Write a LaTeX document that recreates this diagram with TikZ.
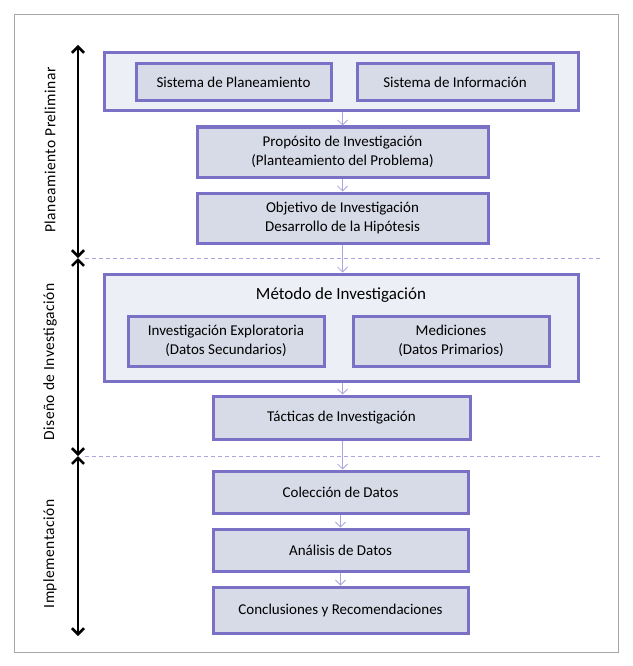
\documentclass[tikz,border=0pt]{standalone}
\usepackage{fontspec}
\setmainfont{Carlito}
\newfontfamily\spacedfont[LetterSpace=3]{Carlito}
\usetikzlibrary{arrows.meta}
\definecolor{rand}{HTML}{7A71C6}
\definecolor{kasten}{HTML}{D7DAE7}
\definecolor{huelle}{HTML}{EDEFF6}
\definecolor{pfeil}{HTML}{A9A5E1}
\begin{document}
\begin{tikzpicture}[x=1pt,y=-1pt,
	box/.style={draw=rand,fill=kasten,line width=3pt,align=center,inner sep=0pt,
		font=\fontsize{15}{19}\selectfont},
	huelle/.style={draw=rand,fill=huelle,line width=3pt,inner sep=0pt},
	fluss/.style={draw=pfeil,line width=0.8pt,-{Straight Barb[length=5pt,width=10pt]}},
	trenner/.style={draw=pfeil,line width=0.8pt,dash pattern=on 4pt off 3pt},
	phase/.style={line width=2.6pt,{Straight Barb[length=6pt,width=12pt]}-{Straight Barb[length=6pt,width=12pt]}},
	phasetext/.style={rotate=90,font=\spacedfont\fontsize{15.5}{17}\selectfont}]
	
	\useasboundingbox (0,0) rectangle (632,666);
	%Rahmen
	\draw[gray!70,line width=0.6pt] (14,14) rectangle (618,652);
	
	%Planeamiento
	\node[huelle,minimum width=474pt,minimum height=58pt] (sistemas) at (341,82) {};
	\node[box,minimum width=195pt,minimum height=37pt] (planeam) at (233.5,82.5) {Sistema de Planeamiento};
	\node[box,minimum width=196pt,minimum height=37pt] (inform) at (455,82.5) {Sistema de Información};
	\node[box,minimum width=291pt,minimum height=50pt] (proposito) at (342.5,152) {Propósito de Investigación\\(Planteamiento del Problema)};
	\node[box,minimum width=291pt,minimum height=50pt] (objetivo) at (342.5,218) {Objetivo de Investigación\\Desarrollo de la Hipótesis};
	
	%Diseno
	\node[huelle,minimum width=474pt,minimum height=107pt] (metodo) at (341,327.5) {};
	\node[font=\fontsize{17}{19}\selectfont] (metodotitel) at (341,295) {Método de Investigación};
	\node[box,minimum width=196pt,minimum height=50pt] (explor) at (226,341) {Investigación Exploratoria\\(Datos Secundarios)};
	\node[box,minimum width=196pt,minimum height=50pt] (medic) at (451,341) {Mediciones\\(Datos Primarios)};
	\node[box,minimum width=257pt,minimum height=43pt] (tacticas) at (341.5,417.5) {Tácticas de Investigación};
	
	%Implementacion
	\node[box,minimum width=255pt,minimum height=42pt] (coleccion) at (340.5,492) {Colección de Datos};
	\node[box,minimum width=255pt,minimum height=42pt] (analisis) at (340.5,550) {Análisis de Datos};
	\node[box,minimum width=255pt,minimum height=46pt] (conclus) at (340.5,610) {Conclusiones y Recomendaciones};
	
	%Trennlinien
	\coordinate (t1l) at (85,258); \coordinate (t1r) at (602,258);
	\coordinate (t2l) at (85,456); \coordinate (t2r) at (602,456);
	\draw[trenner] (t1l) -- (t1r);
	\draw[trenner] (t2l) -- (t2r);
	
	%Pfeile
	\draw[fluss] (sistemas.south -| proposito) -- (proposito.north);
	\draw[fluss] (proposito) -- (objetivo);
	\draw[fluss] (objetivo.south) -- (metodo.north -| objetivo);
	\draw[fluss] (metodo.south -| objetivo) -- (tacticas.north -| objetivo);
	\draw[fluss] (tacticas.south -| objetivo) -- (coleccion.north -| objetivo);
	\draw[fluss] (coleccion) -- (analisis);
	\draw[fluss] (analisis) -- (conclus);
	
	%Phasen
	\coordinate (p0) at (78,45);
	\coordinate (p1) at (78,258);
	\coordinate (p2) at (78,456);
	\coordinate (p3) at (78,636);
	\draw[phase] (p0) -- (p1);
	\draw[phase] (p1) -- (p2);
	\draw[phase] (p2) -- (p3);
	\node[phasetext] (fase1) at (50,150) {Planeamiento Preliminar};
	\node[phasetext] (fase2) at (50,362) {Diseño de Investigación};
	\node[phasetext] (fase3) at (50,554) {Implementación};
	
\end{tikzpicture}
\end{document}
